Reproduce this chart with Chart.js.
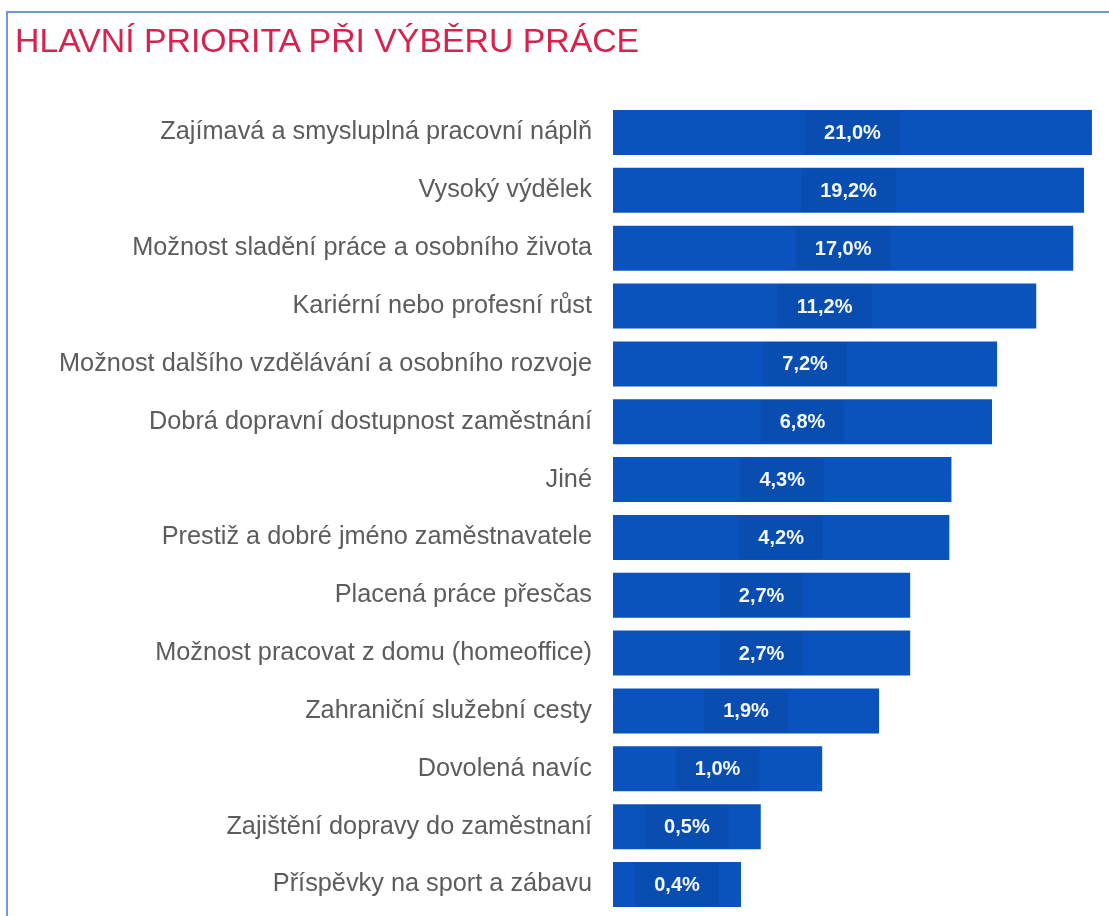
<!DOCTYPE html>
<html lang="cs">
<head>
    <meta charset="UTF-8">
    <title>Hlavní priorita při výběru práce</title>
    <script src="https://cdn.jsdelivr.net/npm/chart.js"></script>
    <style>
        html, body {
            margin: 0;
            padding: 0;
            background: #ffffff;
            overflow: hidden;
        }
        .frame {
            position: absolute;
            left: 6px;
            top: 11px;
            width: 1200px;
            height: 1000px;
            border-left: 2px solid #6e9bd8;
            border-top: 2px solid #6e9bd8;
        }
        h1 {
            position: absolute;
            left: 15px;
            top: 21px;
            margin: 0;
            font-family: "Liberation Sans", Arial, sans-serif;
            font-weight: normal;
            font-size: 33.8px;
            line-height: normal;
            color: #d6224c;
            z-index: 2;
        }
        #wrap {
            position: absolute;
            left: 0;
            top: 0;
            width: 1109px;
            height: 916px;
        }
    </style>
</head>
<body>
    <div class="frame"></div>
    <h1>HLAVNÍ PRIORITA PŘI VÝBĚRU PRÁCE</h1>
    <div id="wrap"><canvas id="chart" width="1109" height="916"></canvas></div>

    <script>
        const categories = [
            'Zajímavá a smysluplná pracovní náplň',
            'Vysoký výdělek',
            'Možnost sladění práce a osobního života',
            'Kariérní nebo profesní růst',
            'Možnost dalšího vzdělávání a osobního rozvoje',
            'Dobrá dopravní dostupnost zaměstnání',
            'Jiné',
            'Prestiž a dobré jméno zaměstnavatele',
            'Placená práce přesčas',
            'Možnost pracovat z domu (homeoffice)',
            'Zahraniční služební cesty',
            'Dovolená navíc',
            'Zajištění dopravy do zaměstnaní',
            'Příspěvky na sport a zábavu'
        ];
        const shares = [21.0, 19.2, 17.0, 11.2, 7.2, 6.8, 4.3, 4.2, 2.7, 2.7, 1.9, 1.0, 0.5, 0.4];

        // value boxes drawn in the middle of each bar
        const valueBoxes = {
            id: 'valueBoxes',
            afterDatasetsDraw(chart) {
                const ctx = chart.ctx;
                const meta = chart.getDatasetMeta(0);
                ctx.save();
                ctx.font = 'bold 20px "Liberation Sans", Arial, sans-serif';
                ctx.textAlign = 'center';
                ctx.textBaseline = 'middle';
                meta.data.forEach((bar, i) => {
                    const label = shares[i].toFixed(1).replace('.', ',') + '%';
                    const cx = (bar.x + bar.base) / 2;
                    const w = ctx.measureText(label).width + 38;
                    const h = bar.height - 2;
                    ctx.fillStyle = '#0a4db0';
                    ctx.fillRect(cx - w / 2, bar.y - h / 2, w, h);
                    ctx.fillStyle = '#f4f8ff';
                    ctx.fillText(label, cx, bar.y + 1);
                });
                ctx.restore();
            }
        };

        new Chart(document.getElementById('chart'), {
            type: 'bar',
            data: {
                labels: categories,
                datasets: [{
                    data: shares,
                    backgroundColor: '#0a53bc',
                    borderWidth: 0,
                    barPercentage: 1,
                    categoryPercentage: 0.778
                }]
            },
            options: {
                indexAxis: 'y',
                responsive: false,
                animation: false,
                layout: {
                    padding: { left: 0, right: 9, top: 103.6, bottom: 2.6 }
                },
                plugins: {
                    legend: { display: false },
                    tooltip: { enabled: false }
                },
                scales: {
                    x: {
                        type: 'logarithmic',
                        min: 0.09435,
                        max: 23.0,
                        display: false
                    },
                    y: {
                        grid: { display: false, drawTicks: false },
                        border: { display: false },
                        ticks: {
                            padding: 21,
                            color: '#5c5c5c',
                            font: { family: '"Liberation Sans", Arial, sans-serif', size: 25.3 }
                        },
                        afterFit(scale) {
                            scale.width = 613;
                            scale.paddingTop = 0;
                            scale.paddingBottom = 0;
                        }
                    }
                }
            },
            plugins: [valueBoxes]
        });
    </script>
</body>
</html>
